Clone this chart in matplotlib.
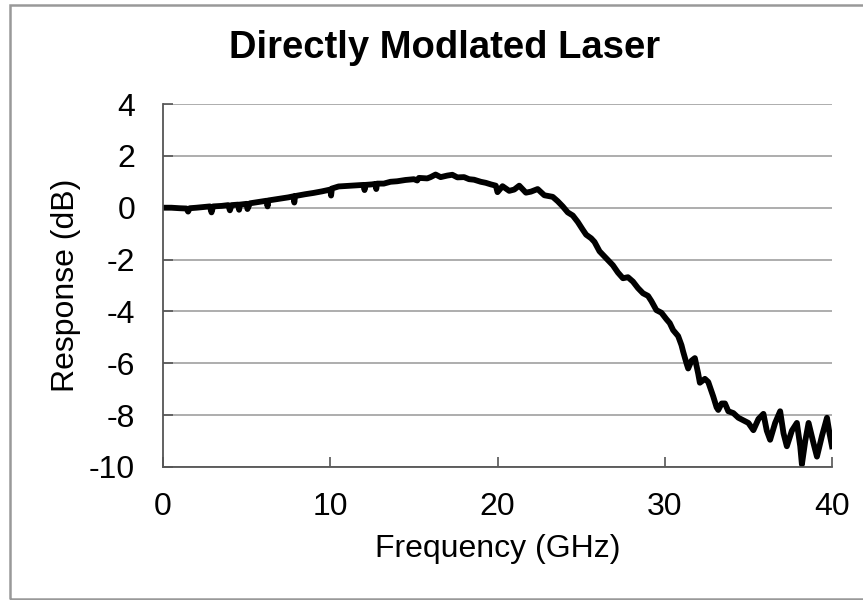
import numpy as np
import matplotlib.pyplot as plt
from matplotlib.patches import Rectangle

plt.rcParams['font.family'] = ['Liberation Sans', 'DejaVu Sans']
plt.rcParams['axes.unicode_minus'] = False

freq = [0.0, 0.5, 1.0, 1.4, 1.5, 1.6, 2.0, 2.5, 2.8, 2.9, 3.0, 3.5, 3.9, 4.0, 4.1,
        4.5, 4.55, 4.6, 5.0, 5.05, 5.2, 5.7, 6.2, 6.25, 6.3, 7.0, 7.5, 7.8, 7.85, 7.9,
        8.5, 9.0, 9.5, 10.0, 10.05, 10.1, 10.5, 11.0, 11.5, 12.0, 12.05, 12.1, 12.5,
        12.7, 12.75, 12.8, 13.2, 13.6, 14.0, 14.5, 15.0, 15.2, 15.3, 15.8, 16.0, 16.3,
        16.6, 17.0, 17.3, 17.6, 18.0, 18.3, 18.6, 19.0, 19.3, 19.6, 19.9, 20.0, 20.3,
        20.7, 21.0, 21.3, 21.7, 22.0, 22.4, 22.8, 23.3, 23.6, 23.9, 24.2, 24.5, 24.8, 25.1, 25.3,
        25.6, 25.8, 26.1, 26.5, 26.9, 27.2, 27.5, 27.8, 28.1, 28.4, 28.7, 29.0, 29.2,
        29.5, 29.8, 30.1, 30.3, 30.5, 30.8, 31.0, 31.1, 31.3, 31.4, 31.6, 31.8, 32.0,
        32.1, 32.4, 32.6, 32.9, 33.1, 33.2, 33.4, 33.6, 33.8, 34.1, 34.4, 34.7, 35.0,
        35.3, 35.6, 35.9, 36.1, 36.3, 36.6, 36.9, 37.1, 37.3, 37.6, 37.9, 38.1, 38.2,
        38.4, 38.6, 38.9, 39.1, 39.4, 39.7, 39.85, 40.0]
resp = [0.00, 0.00, -0.02, -0.03, -0.15, -0.02, 0.00, 0.03, 0.05, -0.18, 0.05, 0.07, 0.10, -0.10, 0.10,
        0.12, -0.08, 0.12, 0.15, -0.05, 0.17, 0.22, 0.27, 0.05, 0.28, 0.35, 0.40, 0.44, 0.20, 0.45,
        0.52, 0.57, 0.63, 0.70, 0.47, 0.74, 0.82, 0.84, 0.86, 0.88, 0.68, 0.88, 0.90,
        0.92, 0.72, 0.93, 0.93, 1.00, 1.02, 1.07, 1.10, 1.05, 1.15, 1.13, 1.18, 1.28,
        1.18, 1.24, 1.27, 1.17, 1.18, 1.10, 1.08, 1.00, 0.96, 0.90, 0.85, 0.60, 0.83,
        0.65, 0.70, 0.85, 0.58, 0.62, 0.72, 0.48, 0.42, 0.25, 0.05, -0.18, -0.30, -0.55, -0.85, -1.04,
        -1.18, -1.32, -1.68, -1.95, -2.22, -2.50, -2.72, -2.68, -2.85, -3.10, -3.30, -3.40, -3.60,
        -3.95, -4.05, -4.30, -4.45, -4.72, -4.95, -5.30, -5.55, -6.00, -6.20, -5.90, -5.80, -6.40,
        -6.75, -6.60, -6.72, -7.28, -7.70, -7.80, -7.55, -7.55, -7.85, -7.92, -8.10, -8.20, -8.30,
        -8.58, -8.15, -7.95, -8.60, -8.95, -8.30, -7.85, -8.70, -9.20, -8.60, -8.30, -9.20, -9.90,
        -9.00, -8.30, -9.10, -9.60, -8.80, -8.10, -8.70, -9.20]

xticks = [0, 10, 20, 30, 40]
yticks = [4, 2, 0, -2, -4, -6, -8, -10]

fig = plt.figure(figsize=(8.63, 6.0), dpi=100)
ax = fig.add_axes([163/863, 1-467/600, (832-163)/863, (467-104)/600])

ax.plot(freq, resp, color='black', lw=4.2, solid_joinstyle='round')

ax.set_xlim(0, 40)
ax.set_ylim(-10, 4)
ax.set_xticks(xticks)
ax.set_yticks(yticks)
ax.yaxis.grid(True, color='#a0a0a0', lw=1.2)
ax.set_axisbelow(True)
for s in ['top', 'right']:
    ax.spines[s].set_visible(False)
for s in ['left', 'bottom']:
    ax.spines[s].set_color('#555555')
    ax.spines[s].set_linewidth(1.3)
ax.tick_params(axis='both', direction='in', length=7, width=1.2, color='#555555',
               labelsize=23)
ax.tick_params(axis='x', pad=18)
ax.tick_params(axis='y', pad=20)

ax.set_xlabel('Frequency (GHz)', fontsize=23, labelpad=9)
ax.set_ylabel('Response (dB)', fontsize=23, labelpad=6)
fig.text(445/863, 1-48/600, 'Directly Modlated Laser', fontsize=27.5, fontweight='bold',
         ha='center', va='center')

# chart area frame
fig.patches.append(Rectangle((10/863, 1-599/600), 1.2, 594/600, transform=fig.transFigure,
                             fill=False, edgecolor='#999999', lw=1.8))

fig.savefig('out.png', dpi=100)
